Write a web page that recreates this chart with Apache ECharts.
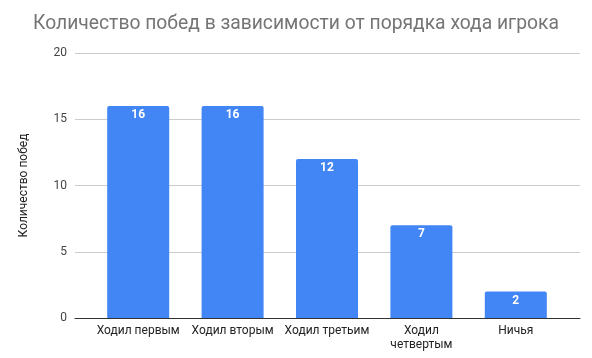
<!DOCTYPE html>
<html><head><meta charset="utf-8">
<script src="https://cdn.jsdelivr.net/npm/echarts@6/dist/echarts.min.js"></script>
<style>html,body{margin:0;padding:0;background:#fff}#c{width:592px;height:358px}</style>
</head><body><div id="c"></div>
<script>
const titleText = 'Количество побед в зависимости от порядка хода игрока';
const yAxisName = 'Количество побед';
const categories = ['Ходил первым', 'Ходил вторым', 'Ходил третьим', 'Ходил\nчетвертым', 'Ничья'];
const wins = [16, 16, 12, 7, 2];
const yMin = 0, yMax = 20, yStep = 5;

const chart = echarts.init(document.getElementById('c'));
chart.setOption({
  animation: false,
  textStyle: { fontFamily: 'Roboto, Arial, sans-serif' },
  title: {
    text: titleText, left: 'center', top: 10,
    textStyle: { fontSize: 19.3, fontWeight: 'normal', color: '#757575', fontFamily: 'Roboto, Arial, sans-serif' }
  },
  grid: [
    { left: 75, right: 12, top: 53, bottom: 40 },
    { left: 91, right: 29, top: 53, bottom: 40 }
  ],
  xAxis: [
    { gridIndex: 0, type: 'value', min: 0, max: 1, show: true,
      axisLine: { show: true, onZero: false, lineStyle: { color: '#333', width: 1 } },
      axisTick: { show: false }, axisLabel: { show: false }, splitLine: { show: false } },
    { gridIndex: 1, type: 'category', data: categories,
      axisLine: { show: false }, axisTick: { show: false },
      axisLabel: { color: '#222', fontSize: 12, margin: 6, interval: 0, lineHeight: 14 } }
  ],
  yAxis: [
    { gridIndex: 0, type: 'value', min: yMin, max: yMax, interval: yStep,
      name: yAxisName, nameLocation: 'middle', nameGap: 45, nameRotate: 90,
      nameTextStyle: { color: '#222', fontSize: 12 },
      axisLine: { show: false }, axisTick: { show: false },
      axisLabel: { color: '#444', fontSize: 12, margin: 8 },
      splitLine: { lineStyle: { color: '#cccccc' } } },
    { gridIndex: 1, type: 'value', min: yMin, max: yMax, interval: yStep, show: false,
      splitLine: { show: false } }
  ],
  series: [{
    type: 'bar', xAxisIndex: 1, yAxisIndex: 1, data: wins, barWidth: 62,
    itemStyle: { color: '#4285f4', borderRadius: [2, 2, 0, 0] },
    label: { show: true, position: 'insideTop', distance: 3, color: '#fff', fontWeight: 'bold', fontSize: 12 }
  }]
});
</script></body></html>
